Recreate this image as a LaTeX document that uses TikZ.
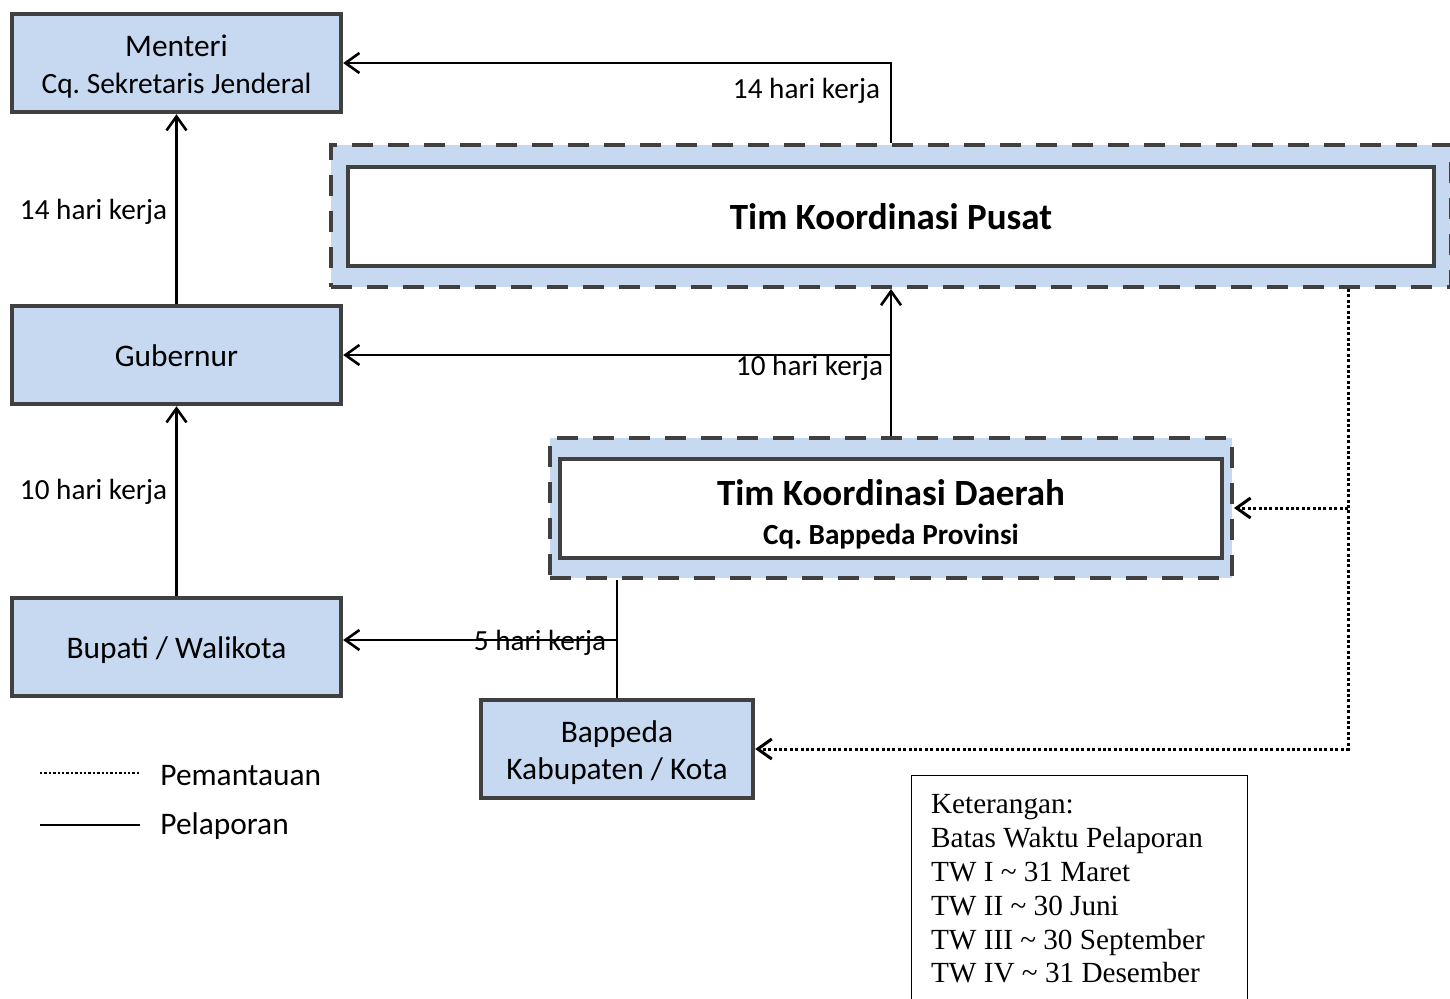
\documentclass[tikz,border=0pt]{standalone}
\usepackage{fontspec}
\setmainfont{Carlito}
\newfontfamily\notefont{Liberation Serif}
\usetikzlibrary{arrows.meta}
\definecolor{boxfill}{RGB}{198,217,241}
\definecolor{boxline}{RGB}{64,64,64}
\newcommand{\boxlines}[1]{\begin{tabular}[t]{@{}c@{}}#1\end{tabular}}
\frenchspacing

\begin{document}
\begin{tikzpicture}[x=0.5pt, y=-0.5pt,
  unit/.style={draw=boxline, fill=boxfill, line width=2.2pt, inner sep=0pt,
    minimum width=164.5pt, minimum height=49pt, font=\fontsize{15.7}{18.5}\selectfont},
  oneline/.style={text height=12.2pt, text depth=0.5pt},
  twoline/.style={text height=5pt, text depth=11.7pt},
  team/.style={draw=boxline, fill=white, line width=2.2pt, inner sep=0pt, minimum height=49.5pt},
  zone/.style={draw=boxline, fill=boxfill, line width=2pt, dash pattern=on 10.5pt off 7.5pt, inner sep=0pt},
  report/.style={line width=1.3pt, -{Straight Barb[length=7pt,width=10pt]}},
  monitor/.style={line width=1.5pt, dash pattern=on 1.5pt off 1.2pt, -{Straight Barb[length=7pt,width=10pt]}},
  lbl/.style={inner sep=0pt, font=\fontsize{14.6}{18.5}\selectfont}]
\useasboundingbox (0,0) rectangle (1450,998);

% Left column
\node[unit, twoline] (menteri) at (176.5,63)
  {\boxlines{Menteri\\{\fontsize{14.7}{18.5}\selectfont Cq. Sekretaris Jenderal}}};
\node[unit, oneline] (gubernur) at (176.5,355) {Gubernur};
\node[unit, oneline] (bupati) at (176.5,647) {Bupati / Walikota};
\node[unit, twoline, minimum width=136pt] (bappedakab) at (617,749) {\boxlines{Bappeda\\Kabupaten / Kota}};

% Coordination teams
\node[zone, minimum width=560pt, minimum height=71pt] (tkpzone) at (891,216) {};
\node[team, minimum width=543pt, font=\fontsize{18.5}{22}\selectfont\bfseries] (tkp) at (891,216.5)
  {Tim Koordinasi Pusat};
\node[zone, minimum width=341pt, minimum height=70pt] (tkdzone) at (891,508) {};
\node[team, minimum width=331pt, text height=4pt, text depth=7.5pt,
  font=\fontsize{14.6}{19.5}\selectfont\bfseries] (tkd) at (891,508.5)
  {\boxlines{{\fontsize{18.5}{19.5}\selectfont Tim Koordinasi Daerah}\\Cq. Bappeda Provinsi}};

% Reporting lines
\draw[report] (tkpzone.north) |- (menteri.east);
\draw[report] (gubernur.north) -- (menteri.south);
\draw[report] (bupati.north) -- (gubernur.south);
\draw[report] (tkdzone.north) -- (tkpzone.south);
\draw[report] (tkdzone.north |- gubernur) -- (gubernur.east);
\coordinate (kabjoin) at (617,640);
\draw[line width=1.3pt] (tkdzone.south -| bappedakab) -- (bappedakab.north);
\draw[report] (kabjoin) -- (kabjoin -| bupati.east);

% Monitoring lines
\coordinate (monx) at (1348,0);
\draw[monitor] (tkpzone.south -| monx) |- (bappedakab.east);
\draw[monitor] (monx |- tkdzone.east) -- (tkdzone.east);

% Labels
\node[lbl] (lblmenteri) at (806.5,90.5) {14 hari kerja};
\node[lbl] (lblgub) at (93.5,211.5) {14 hari kerja};
\node[lbl] (lblbup) at (93.5,491.5) {10 hari kerja};
\node[lbl] (lbltkd) at (809.5,367.5) {10 hari kerja};
\node[lbl] (lblkab) at (540,643) {5 hari kerja};

% Legend
\draw[line width=1.1pt, dash pattern=on 1.2pt off 1pt] (40,773) -- (140,773);
\node[lbl, anchor=west, font=\fontsize{15.7}{18.5}\selectfont] (pemantauan) at (160,776) {Pemantauan};
\draw[line width=1.3pt] (40,825) -- (140,825);
\node[lbl, anchor=west, font=\fontsize{15.7}{18.5}\selectfont] (pelaporan) at (160,826) {Pelaporan};

% Note
\node[draw, line width=0.6pt, anchor=north west, inner xsep=10pt, inner ysep=9.8pt,
  text width=148pt, align=left, font=\notefont\fontsize{14.6}{16.9}\selectfont] (keterangan) at (910.5,774.5)
  {\spaceskip=0pt Keterangan:\\Batas Waktu Pelaporan\\TW I \textasciitilde{} 31 Maret\\TW II \textasciitilde{} 30 Juni\\
   TW III \textasciitilde{} 30 September\\TW IV \textasciitilde{} 31 Desember};

\end{tikzpicture}
\end{document}
